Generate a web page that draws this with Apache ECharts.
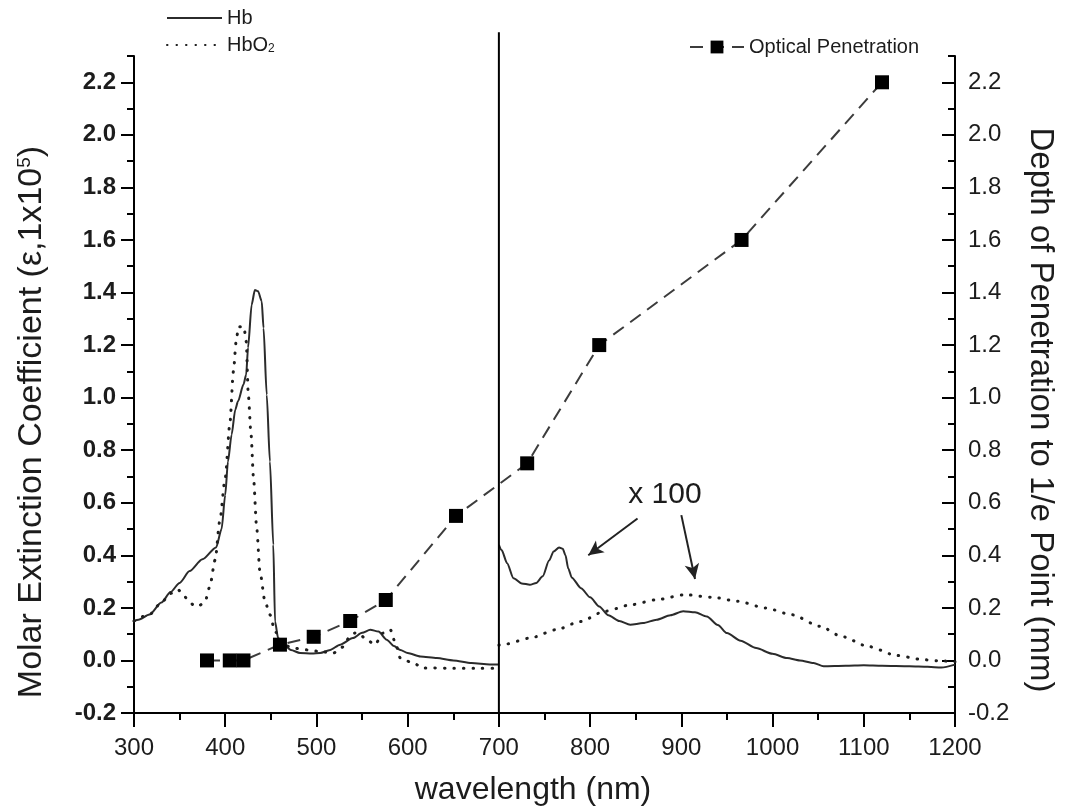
<!DOCTYPE html>
<html>
<head>
<meta charset="utf-8">
<script src="https://cdn.jsdelivr.net/npm/echarts@6/dist/echarts.min.js"></script>
<style>
  html, body { margin: 0; padding: 0; background: #fff; }
  #chart { width: 1067px; height: 809px; }
</style>
</head>
<body>
<div id="chart"></div>
<script>
// ---- Hemoglobin extinction, visible band (300-700 nm), units of 1x10^5
const hbVisWl = [300, 305, 317, 330, 340, 350, 361, 375, 390, 396, 400, 403, 407, 411, 414, 420, 423, 425, 429, 432.5, 436, 440, 442, 445.5, 449, 452.7, 454.6, 458, 464, 472, 482, 495, 504, 515, 526, 540, 550, 559, 568, 577, 585, 592, 600, 614, 632, 650, 670, 690, 700];
const hbVis   = [0.15, 0.155, 0.175, 0.22, 0.26, 0.295, 0.34, 0.385, 0.43, 0.50, 0.63, 0.757, 0.859, 0.954, 0.986, 1.05, 1.088, 1.19, 1.354, 1.41, 1.405, 1.367, 1.265, 1.011, 0.757, 0.44, 0.148, 0.085, 0.06, 0.04, 0.028, 0.026, 0.028, 0.04, 0.06, 0.085, 0.105, 0.117, 0.11, 0.079, 0.055, 0.04, 0.028, 0.015, 0.009, 0.0, -0.01, -0.015, -0.015];

const hbo2VisWl = [300, 317, 330, 340, 348, 354, 360, 367, 372, 378, 383, 389, 394, 400, 405, 409, 412, 414.5, 420.5, 423, 425.3, 428.3, 431, 434.5, 438, 443.6, 449, 454.6, 463.7, 474.6, 491, 504, 518.5, 528, 537, 542, 546, 555, 564, 573, 581, 586, 592, 606, 617, 628, 650, 680, 700];
const hbo2Vis   = [0.15, 0.175, 0.22, 0.255, 0.27, 0.25, 0.225, 0.206, 0.21, 0.225, 0.28, 0.383, 0.53, 0.694, 0.897, 1.10, 1.214, 1.27, 1.27, 1.214, 1.011, 0.859, 0.694, 0.504, 0.339, 0.225, 0.174, 0.11, 0.06, 0.047, 0.04, 0.034, 0.028, 0.05, 0.091, 0.104, 0.104, 0.079, 0.06, 0.104, 0.117, 0.072, 0.009, -0.01, -0.029, -0.029, -0.03, -0.03, -0.03];

// ---- Near-infrared band (700-1200 nm), plotted x100
const hbNirWl = [700, 703, 709, 716, 725, 734, 741, 748, 755, 760, 766, 770, 773, 776, 780, 790, 800, 810, 820, 832, 844, 858, 873, 888, 902, 915, 928, 940, 950, 965, 982, 1000, 1016, 1030, 1045, 1056, 1080, 1100, 1120, 1150, 1170, 1185, 1200];
const hbNir   = [0.44, 0.42, 0.37, 0.313, 0.293, 0.288, 0.295, 0.32, 0.38, 0.415, 0.43, 0.425, 0.40, 0.35, 0.315, 0.275, 0.24, 0.205, 0.172, 0.15, 0.136, 0.142, 0.155, 0.172, 0.187, 0.183, 0.167, 0.135, 0.104, 0.075, 0.047, 0.025, 0.009, 0.0, -0.01, -0.022, -0.02, -0.018, -0.02, -0.022, -0.024, -0.027, -0.016];

const hbo2NirWl = [700, 707, 734, 763, 789, 816, 845, 873, 904, 935, 962, 992, 1021, 1052, 1076, 1105, 1136, 1165, 1180, 1200];
const hbo2Nir   = [0.058, 0.062, 0.085, 0.117, 0.148, 0.187, 0.212, 0.231, 0.25, 0.24, 0.225, 0.20, 0.174, 0.13, 0.091, 0.053, 0.019, 0.003, -0.001, -0.005];

// ---- Optical penetration depth to 1/e point (mm)
const depthWl = [380, 405, 420, 460, 497, 537, 576, 653, 731, 810, 966, 1120];
const depth   = [0, 0, 0, 0.06, 0.09, 0.15, 0.23, 0.55, 0.75, 1.2, 1.6, 2.2];

// ---- Axis tick labels
const yTicks = [-0.2, 0.0, 0.2, 0.4, 0.6, 0.8, 1.0, 1.2, 1.4, 1.6, 1.8, 2.0, 2.2];

const FONT = "'Liberation Sans', Arial, Helvetica, sans-serif";
const INK = '#1c1c1c';
const zip = (xs, ys) => xs.map((x, i) => [x, ys[i]]);

const chart = echarts.init(document.getElementById('chart'), null, { renderer: 'canvas' });

const axisStroke = { color: '#000', width: 2 };
const Y_MIN = -0.2, Y_MAX = 2.3;

function minorYAxis(position, inside) {
  return {
    type: 'value', position, min: Y_MIN, max: Y_MAX, interval: 0.1,
    axisLine: { show: true, onZero: false, lineStyle: axisStroke },
    axisTick: { show: true, inside, length: 7, lineStyle: axisStroke },
    axisLabel: { show: false },
    splitLine: { show: false }
  };
}
function majorYAxis(position, inside, labelMargin, weight) {
  return {
    type: 'value', position, min: Y_MIN, max: Y_MAX,
    axisLine: { show: false, onZero: false },
    axisTick: { show: true, inside, length: 13, customValues: yTicks, lineStyle: axisStroke },
    axisLabel: {
      customValues: yTicks, formatter: v => v.toFixed(1), margin: labelMargin,
      fontSize: 24, fontWeight: weight, color: INK, fontFamily: FONT
    },
    splitLine: { show: false }
  };
}

const hbLine = { color: '#2b2b2b', width: 2 };
const hbo2Line = { color: '#1e1e1e', width: 3, type: [0.5, 9], cap: 'round' };

const option = {
  animation: false,
  backgroundColor: '#fff',
  textStyle: { fontFamily: FONT },
  grid: { left: 134, right: 112, top: 56, bottom: 96 },
  xAxis: {
    type: 'value', min: 300, max: 1200, interval: 100,
    axisLine: { show: true, onZero: false, lineStyle: axisStroke },
    axisTick: { show: true, length: 14, lineStyle: axisStroke },
    minorTick: { show: true, splitNumber: 2, length: 7, lineStyle: axisStroke },
    axisLabel: { margin: 23, fontSize: 24, color: INK, fontFamily: FONT, formatter: v => String(v) },
    splitLine: { show: false }, minorSplitLine: { show: false }
  },
  yAxis: [
    minorYAxis('left', false),
    majorYAxis('left', false, 18, 'bold'),
    minorYAxis('right', true),
    majorYAxis('right', true, 13, 'normal')
  ],
  legend: [
    {
      data: ['Hb', 'HbO2'], orient: 'vertical', left: 161, top: 3,
      itemWidth: 55, itemHeight: 12, itemGap: 7, selectedMode: false,
      itemStyle: { opacity: 0 },
      formatter: name => name === 'HbO2' ? '{t|HbO}{sub|2}' : '{t|' + name + '}',
      textStyle: {
        color: INK, fontFamily: FONT, fontSize: 20,
        rich: {
          t: { fontSize: 20, color: INK, fontFamily: FONT },
          sub: { fontSize: 12, color: INK, fontFamily: FONT, verticalAlign: 'bottom' }
        }
      }
    },
    {
      data: ['Optical Penetration'], left: 684, top: 32,
      itemWidth: 54, itemHeight: 16, selectedMode: false,
      textStyle: { color: INK, fontFamily: FONT, fontSize: 20 }
    }
  ],
  series: [
    {
      name: 'Hb', type: 'line', yAxisIndex: 0, data: zip(hbVisWl, hbVis),
      symbol: 'none', smooth: 0.25, smoothMonotone: 'x', lineStyle: hbLine, itemStyle: { color: hbLine.color }
    },
    {
      name: 'HbO2', type: 'line', yAxisIndex: 0, data: zip(hbo2VisWl, hbo2Vis),
      symbol: 'none', smooth: 0.25, smoothMonotone: 'x', lineStyle: hbo2Line, itemStyle: { color: hbo2Line.color }
    },
    {
      name: 'Hb', type: 'line', yAxisIndex: 0, data: zip(hbNirWl, hbNir),
      symbol: 'none', smooth: 0.25, smoothMonotone: 'x', lineStyle: hbLine, itemStyle: { color: hbLine.color },
      markLine: {
        silent: true, animation: false,
        symbol: ['none', 'arrow'], symbolSize: [11, 15],
        lineStyle: { color: '#222', width: 2, type: 'solid' },
        label: { show: false },
        data: [
          [{ coord: [852, 0.54] }, { coord: [798, 0.40] }],
          [{ coord: [900, 0.553] }, { coord: [915, 0.31] }]
        ]
      },
      markPoint: {
        silent: true, animation: false,
        symbol: 'circle', symbolSize: 1, itemStyle: { color: 'rgba(0,0,0,0)' },
        label: { show: true, position: 'inside', formatter: 'x 100', fontSize: 30, color: INK, fontFamily: FONT },
        data: [{ coord: [882, 0.63] }]
      }
    },
    {
      name: 'HbO2', type: 'line', yAxisIndex: 0, data: zip(hbo2NirWl, hbo2Nir),
      symbol: 'none', smooth: 0.25, smoothMonotone: 'x', lineStyle: hbo2Line, itemStyle: { color: hbo2Line.color }
    },
    {
      name: 'Optical Penetration', type: 'line', yAxisIndex: 2, data: zip(depthWl, depth),
      symbol: 'rect', symbolSize: 14, z: 5,
      itemStyle: { color: '#000' },
      lineStyle: { color: '#3c3c3c', width: 2, type: [13, 8] }
    }
  ],
  graphic: [
    {
      id: 'ytitle-left', type: 'text', x: 32, y: 422, rotation: Math.PI / 2,
      style: {
        text: '{a|Molar Extinction Coefficient (\u03b5,1x10}{s|5}{a|)}',
        align: 'center', verticalAlign: 'middle', fill: INK,
        rich: {
          a: { fontSize: 34, fontFamily: FONT, fill: INK },
          s: { fontSize: 19, fontFamily: FONT, fill: INK, verticalAlign: 'top' }
        }
      }
    },
    {
      id: 'ytitle-right', type: 'text', x: 1040, y: 410, rotation: -Math.PI / 2,
      style: {
        text: 'Depth of Penetration to 1/e Point (mm)',
        align: 'center', verticalAlign: 'middle', fill: INK,
        fontSize: 33, fontFamily: FONT
      }
    },
    {
      id: 'xtitle', type: 'text', x: 533, y: 790,
      style: {
        text: 'wavelength (nm)', align: 'center', verticalAlign: 'middle', fill: INK,
        fontSize: 32, fontFamily: FONT
      }
    }
  ]
};

chart.setOption(option);

// Divider between the visible and the x100 near-infrared panels at 700 nm
const divX = chart.convertToPixel({ xAxisIndex: 0 }, 700);
const divTop = chart.convertToPixel({ yAxisIndex: 0 }, 2.39);
const divBottom = chart.convertToPixel({ yAxisIndex: 0 }, Y_MIN);
chart.setOption({
  graphic: [{
    id: 'divider', type: 'line', z: 10,
    shape: { x1: divX, y1: divTop, x2: divX, y2: divBottom },
    style: { stroke: '#000', lineWidth: 2 }
  }]
});
</script>
</body>
</html>
